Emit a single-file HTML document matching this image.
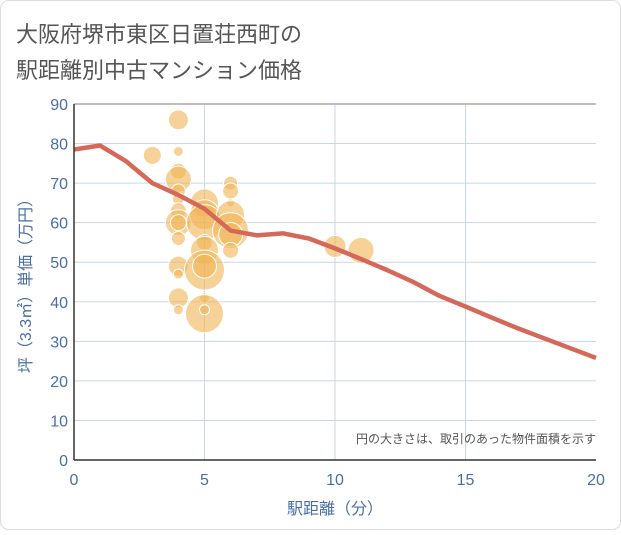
<!DOCTYPE html>
<html><head><meta charset="utf-8"><style>
body{margin:0;background:#fff;}
svg text{font-family:"Liberation Sans","Noto Sans CJK JP",sans-serif;}
</style></head><body>
<svg id="chart" width="621" height="530" xmlns="http://www.w3.org/2000/svg">
<rect x="0.5" y="0.5" width="620" height="529" rx="8" fill="#fff" stroke="#ddd"/>
<text x="16" y="42" font-size="22" fill="#555">大阪府堺市東区日置荘西町の</text>
<text x="16" y="78" font-size="22" fill="#555">駅距離別中古マンション価格</text>
<g id="grid"></g>
<g id="bubbles"></g>
<g id="line"></g>
<g id="axes"></g>
<text x="596" y="443" font-size="12" fill="#555" text-anchor="end">円の大きさは、取引のあった物件面積を示す</text>
<text x="335" y="514" font-size="16" fill="#4a6fa5" text-anchor="middle">駅距離（分）</text>
<text transform="translate(31,282) rotate(-90)" font-size="16" fill="#4a6fa5" text-anchor="middle">坪（3.3㎡）単価（万円）</text>
</svg>
<script>
const xTicks=[0,5,10,15,20];
const yTicks=[0,10,20,30,40,50,60,70,80,90];
const bubbleX=[4,3,4,4,4,4,4,4,4,4,4,4,4,4,4,5,5,5,5,5,5,5,5,5,5,6,6,6,6,6,6,6,10,11];
const bubbleY=[86,77,78,73,71,68,66,63,60,60,56,49,47,41,38,65,62,60,55,53,48,49,41,37,38,70,68,65,62,58,57,53,54,53];
const bubbleR=[10,9,5,8,13,7,6,8,13,8,7,10,5,10,5,14,15,18,8,14,20,12,5,19,5,7,8,4,14,18,12,8,11,13];
const lineX=[0,1,2,3,4,5,6,7,8,9,10,11,12,13,14,15,16,17,18,19,20];
const lineY=[78.5,79.5,75.5,70,67,63.5,58,56.8,57.3,56,53.5,50.8,48,45,41.5,38.8,36,33.3,30.8,28.3,25.8];
const L=74,R=596,T=104,B=460;
const sx=v=>L+(v-0)/(20-0)*(R-L);
const sy=v=>B-(v-0)/(90-0)*(B-T);
const NS="http://www.w3.org/2000/svg";
function mk(t,a,p){const e=document.createElementNS(NS,t);for(const k in a)e.setAttribute(k,a[k]);p.appendChild(e);return e;}
const grid=document.getElementById('grid'),axes=document.getElementById('axes');
for(let i=1;i<=20;i++){if(i%5===0&&i<20){const g=mk('line',{x1:sx(i),x2:sx(i),y1:T,y2:B,stroke:'#c8d6e8','stroke-width':1},grid);}}
yTicks.forEach(v=>{if(v>0&&v<90){const g=mk('line',{x1:L,x2:R,y1:sy(v),y2:sy(v),stroke:'#c8d6e8','stroke-width':1},grid);}
const t=mk('text',{x:L-6,y:sy(v)+6,'font-size':16,fill:'#4a6fa5','text-anchor':'end'},axes);t.textContent=v;});
xTicks.forEach(v=>{const t=mk('text',{x:sx(v),y:B+25,'font-size':16,fill:'#4a6fa5','text-anchor':'middle'},axes);t.textContent=v;});
const topBorder=mk('line',{x1:L,x2:R,y1:T,y2:T,stroke:'#aaa','stroke-width':1.5},axes);


const bx=mk('line',{x1:L,x2:R,y1:B,y2:B,stroke:'#333','stroke-width':1.5},axes);
const by=mk('line',{x1:L,x2:L,y1:T,y2:B,stroke:'#333','stroke-width':1.5},axes);
const bg=document.getElementById('bubbles');
bubbleX.forEach((x,i)=>{const c=mk('circle',{cx:sx(x),cy:sy(bubbleY[i]),r:bubbleR[i],fill:'#f0b453','fill-opacity':0.6,stroke:'#fff','stroke-width':1},bg);});
const pts=lineX.map((x,i)=>sx(x)+','+sy(lineY[i])).join(' ');
const pl=mk('polyline',{points:pts,fill:'none',stroke:'#d4695a','stroke-width':4.5,'stroke-linejoin':'round'},document.getElementById('line'));


</script>
</body></html>
